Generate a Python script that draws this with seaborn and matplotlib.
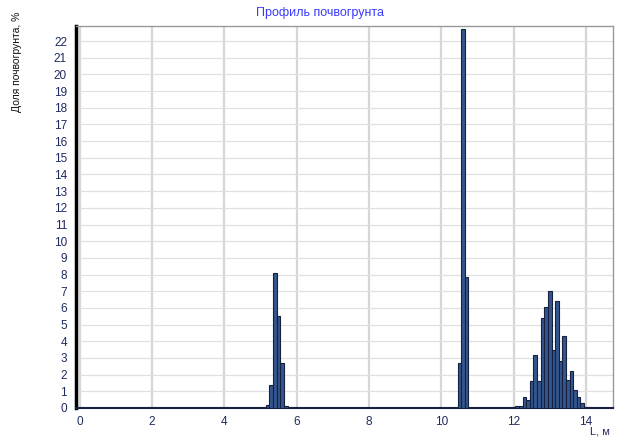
import numpy as np
import pandas as pd
import matplotlib
matplotlib.use("Agg")
import matplotlib.pyplot as plt
import seaborn as sns
from matplotlib.ticker import MultipleLocator

# Data: bin centres (m) and share of soil (%)
positions = [5.2, 5.3, 5.4, 5.5, 5.6, 5.7,
             10.5, 10.6, 10.7,
             12.0, 12.1, 12.2, 12.3, 12.4, 12.5, 12.6, 12.7, 12.8, 12.9, 13.0,
             13.1, 13.2, 13.3, 13.4, 13.5, 13.6, 13.7, 13.8, 13.9, 14.0, 14.1]
shares = [0.15, 1.35, 8.1, 5.5, 2.7, 0.12,
          2.7, 22.7, 7.85,
          0.05, 0.1, 0.12, 0.65, 0.5, 1.6, 3.2, 1.6, 5.4, 6.05, 7.0,
          3.5, 6.4, 2.8, 4.3, 1.65, 2.2, 1.05, 0.65, 0.3, 0.08, 0.05]
x_ticks = [0, 2, 4, 6, 8, 10, 12, 14]
y_ticks = list(range(0, 23))
title = "Профиль почвогрунта"
ylabel = "Доля почвогрунта, %"
xlabel = "L, м"

df = pd.DataFrame({"L": positions, "share": shares})

sns.set_style("white")
plt.rcParams['font.family'] = ['Liberation Sans', 'DejaVu Sans']

fig = plt.figure(figsize=(6.19, 4.37), dpi=100)
ax = fig.add_axes([76/619, 29/437, (613-76)/619, (408-26)/437])

sns.histplot(data=df, x="L", weights="share", binwidth=0.1,
             binrange=(-0.05, 14.75), ax=ax,
             color="#34558f", alpha=1.0, edgecolor="#15213d", linewidth=0.8,
             zorder=3)

ax.set_xlim(-0.1, 14.75)
ax.set_ylim(0, 22.9)
ax.set_xticks(x_ticks)
ax.set_yticks(y_ticks)
ax.xaxis.set_minor_locator(MultipleLocator(0.5))
ax.yaxis.set_minor_locator(MultipleLocator(0.2))
ax.grid(axis="x", which="major", color="#d6d6d6", linewidth=1.6, zorder=0)
ax.grid(axis="y", which="major", color="#e0e0e0", linewidth=0.9, zorder=0)
ax.set_axisbelow(True)

tick_color = "#1f2a60"
ax.tick_params(axis="both", which="major", labelsize=8.5, labelcolor=tick_color,
               color="#888888", length=3, width=0.8, direction="out")
ax.tick_params(axis="y", which="minor", length=2, width=0.6, color="#999999")
ax.tick_params(axis="x", which="minor", length=2, width=0.6, color="#999999")
ax.tick_params(axis="x", which="major", pad=3)

ax.set_xlabel("")
ax.set_ylabel("")

for s in ["top", "right"]:
    ax.spines[s].set_color("#999999")
    ax.spines[s].set_linewidth(1.0)
ax.spines["left"].set_color("#000000")
ax.spines["left"].set_linewidth(2.5)
ax.spines["bottom"].set_color("#15213d")
ax.spines["bottom"].set_linewidth(1.5)

fig.text(320/619, 1 - 13/437, title, color="#3a3aff", fontsize=9,
         ha="center", va="center")
fig.text(17/619, 1 - 12/437, ylabel, rotation=90, color="#111111",
         fontsize=7.5, ha="center", va="top")
fig.text(600/619, 0.5/437, xlabel, color=tick_color, fontsize=8,
         ha="center", va="bottom")

fig.savefig("out.png", dpi=100)
